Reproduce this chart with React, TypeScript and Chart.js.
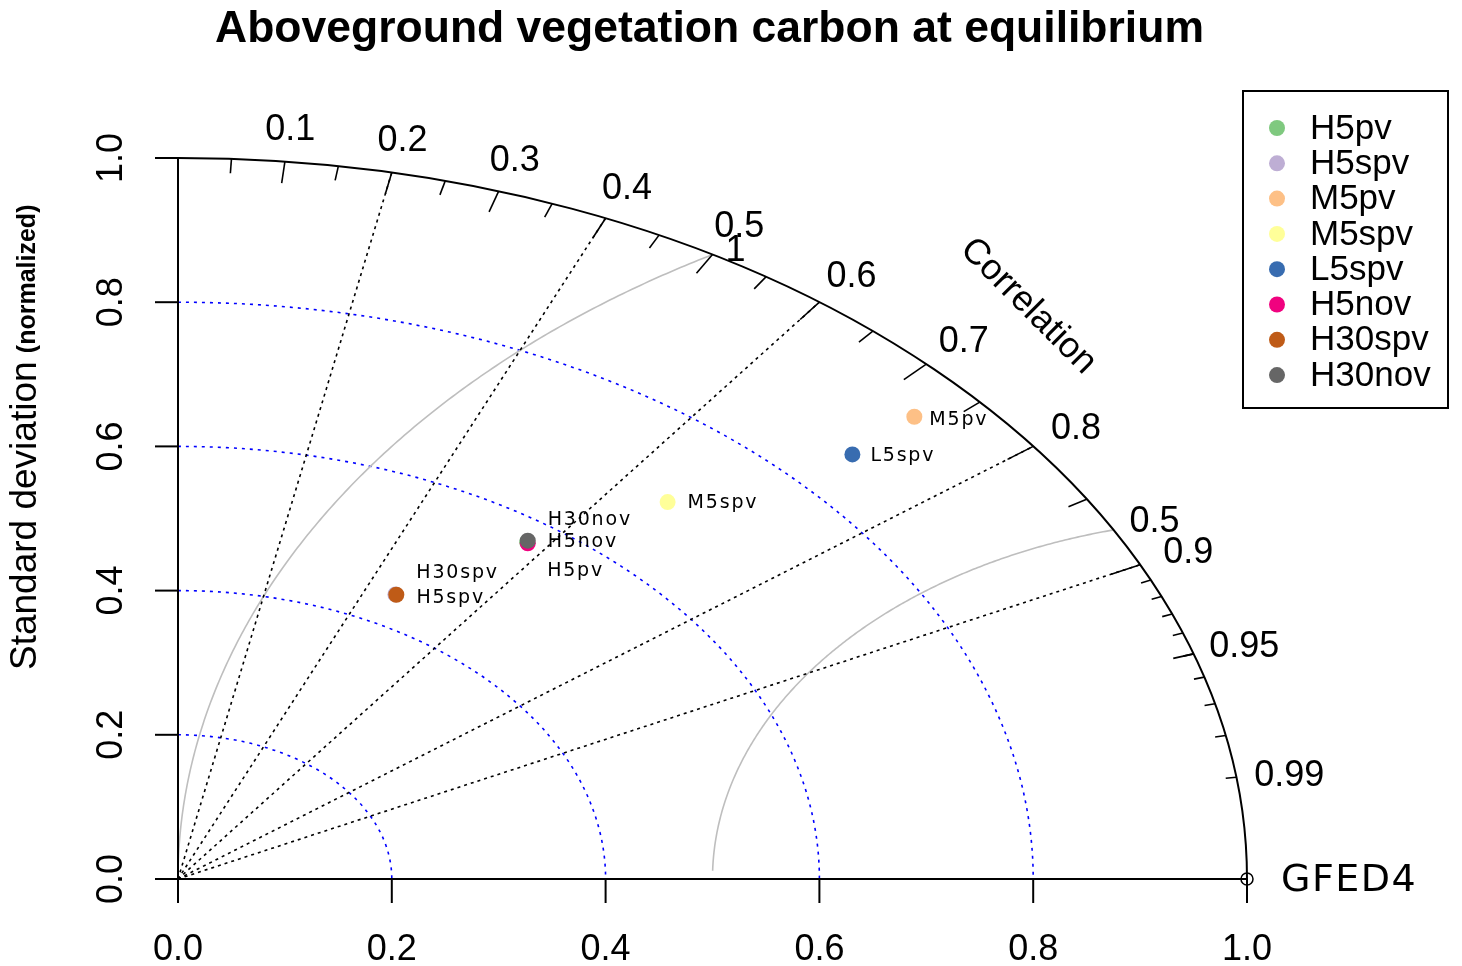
import React, { useEffect, useRef } from "react";
import { Chart, registerables } from "chart.js";

Chart.register(...registerables);

// ---------- data ----------
const TITLE = "Aboveground vegetation carbon at equilibrium";
const Y_TITLE_MAIN = "Standard deviation";
const Y_TITLE_SUB = "(normalized)";
const REF_LABEL = "GFED4";
const REF_SD = 1.0;

const models = ["H5pv", "H5spv", "M5pv", "M5spv", "L5spv", "H5nov", "H30spv", "H30nov"];
const modelColors = ["#7FC97F", "#BEAED4", "#FDC086", "#FFFF99", "#386CB0", "#F0027F", "#BF5B17", "#666666"];
// normalized standard deviation and correlation with GFED4
const sdNorm = [0.570, 0.444, 0.941, 0.695, 0.863, 0.569, 0.444, 0.572];
const corrVals = [0.573, 0.458, 0.732, 0.659, 0.731, 0.575, 0.460, 0.572];

const axisTicks = [0, 0.2, 0.4, 0.6, 0.8, 1.0];
const axisTickLabels = ["0.0", "0.2", "0.4", "0.6", "0.8", "1.0"];
const sdArcs = [0.2, 0.4, 0.6, 0.8];
const gammaArcs = [0.5, 1.0];
const gammaLabels = ["0.5", "1"];
const corrLines = [0.2, 0.4, 0.6, 0.8, 0.9];
const corrBigTicks = [0.1, 0.2, 0.3, 0.4, 0.5, 0.6, 0.7, 0.8, 0.9];
const corrMedTicks = [0.05, 0.15, 0.25, 0.35, 0.45, 0.55, 0.65, 0.75, 0.85, 0.95];
const corrSmallTicks = [0.91, 0.92, 0.93, 0.94, 0.95, 0.96, 0.97, 0.98, 0.99];
const corrLabelValues = [0.1, 0.2, 0.3, 0.4, 0.5, 0.6, 0.7, 0.8, 0.9, 0.95, 0.99];
const corrLabelTexts = ["0.1", "0.2", "0.3", "0.4", "0.5", "0.6", "0.7", "0.8", "0.9", "0.95", "0.99"];

// ---------- style (pixel offsets for point labels) ----------
const labelOffsets: [number, number][] = [
  [20, 29], [21, 4], [15, 3], [20, 1], [18, 2], [20, -1], [20, -22], [20, -21],
];

const SANS = '"Liberation Sans", Arial, sans-serif';
const DEJA = '"DejaVu Sans", sans-serif';

const taylorPlugin = {
  id: "taylor",
  beforeDatasetsDraw(chart: any) {
    const ctx: CanvasRenderingContext2D = chart.ctx;
    const xs = chart.scales.x;
    const ys = chart.scales.y;
    const X = (v: number) => xs.getPixelForValue(v);
    const Y = (v: number) => ys.getPixelForValue(v);
    const ox = X(0), oy = Y(0);
    const rx = X(1) - X(0), ry = Y(0) - Y(1);
    ctx.save();

    // blue dotted sd arcs
    ctx.strokeStyle = "#0000FF";
    ctx.lineWidth = 1.6;
    ctx.setLineDash([3, 5]);
    for (const r of sdArcs) {
      ctx.beginPath();
      ctx.ellipse(ox, oy, r * rx, r * ry, 0, -Math.PI / 2, 0, false);
      ctx.stroke();
    }

    // grey gamma (centered RMS) arcs
    ctx.setLineDash([]);
    ctx.strokeStyle = "#BEBEBE";
    ctx.lineWidth = 1.6;
    for (const g of gammaArcs) {
      const t0 = Math.acos(-g / (2 * REF_SD));
      ctx.beginPath();
      let first = true;
      for (let t = t0; t <= Math.PI - 0.02; t += 0.005) {
        const x = REF_SD + g * Math.cos(t);
        const y = g * Math.sin(t);
        if (first) { ctx.moveTo(X(x), Y(y)); first = false; } else ctx.lineTo(X(x), Y(y));
      }
      ctx.stroke();
    }

    // black dotted correlation rays
    ctx.strokeStyle = "#000";
    ctx.lineWidth = 1.6;
    ctx.setLineDash([3, 4]);
    for (const c of corrLines) {
      ctx.beginPath();
      ctx.moveTo(ox, oy);
      ctx.lineTo(X(c), Y(Math.sqrt(1 - c * c)));
      ctx.stroke();
    }
    ctx.setLineDash([]);

    // outer arc
    ctx.lineWidth = 2;
    ctx.beginPath();
    ctx.ellipse(ox, oy, rx, ry, 0, -Math.PI / 2, 0, false);
    ctx.stroke();

    // correlation ticks
    const tick = (c: number, inner: number) => {
      const s = Math.sqrt(1 - c * c);
      ctx.beginPath();
      ctx.moveTo(X(c), Y(s));
      ctx.lineTo(X(c * inner), Y(s * inner));
      ctx.stroke();
    };
    ctx.lineWidth = 1.6;
    corrBigTicks.forEach((c) => tick(c, 0.97));
    corrMedTicks.forEach((c) => tick(c, 0.98));
    corrSmallTicks.forEach((c) => tick(c, 0.99));

    // axes
    ctx.lineWidth = 2;
    ctx.beginPath();
    ctx.moveTo(X(0), Y(0));
    ctx.lineTo(X(1), Y(0));
    ctx.moveTo(X(0), Y(0));
    ctx.lineTo(X(0), Y(1));
    ctx.stroke();
    ctx.fillStyle = "#000";
    ctx.font = `36px ${SANS}`;
    axisTicks.forEach((v, i) => {
      // x ticks
      ctx.beginPath();
      ctx.moveTo(X(v), oy);
      ctx.lineTo(X(v), oy + 24);
      ctx.stroke();
      ctx.textAlign = "center";
      ctx.textBaseline = "middle";
      ctx.fillText(axisTickLabels[i], X(v), oy + 71);
      // y ticks
      ctx.beginPath();
      ctx.moveTo(ox, Y(v));
      ctx.lineTo(ox - 23, Y(v));
      ctx.stroke();
      ctx.save();
      ctx.translate(ox - 66, Y(v));
      ctx.rotate(-Math.PI / 2);
      ctx.fillText(axisTickLabels[i], 0, 0);
      ctx.restore();
    });

    // correlation labels
    ctx.font = `36px ${SANS}`;
    ctx.textAlign = "center";
    ctx.textBaseline = "middle";
    corrLabelValues.forEach((c, i) => {
      const s = Math.sqrt(1 - c * c);
      ctx.fillText(corrLabelTexts[i], X(c * 1.05), Y(s * 1.05) + 4);
    });

    // gamma labels
    ctx.textAlign = "left";
    gammaArcs.forEach((g, i) => {
      const xi = REF_SD - (g * g) / (2 * REF_SD);
      const yi = Math.sqrt(Math.max(0, 1 - xi * xi));
      ctx.fillText(gammaLabels[i], X(xi) + 16 + i * -3, Y(yi) - 8 + i * 4);
    });

    // "Correlation"
    ctx.save();
    ctx.font = `36px ${SANS}`;
    ctx.textAlign = "center";
    ctx.translate(X(0.8) - 5, Y(0.8) + 4);
    ctx.rotate(Math.PI / 4);
    ctx.fillText("Correlation", 0, 0);
    ctx.restore();

    ctx.restore();
  },
  afterDatasetsDraw(chart: any) {
    const ctx: CanvasRenderingContext2D = chart.ctx;
    const xs = chart.scales.x;
    const ys = chart.scales.y;
    const X = (v: number) => xs.getPixelForValue(v);
    const Y = (v: number) => ys.getPixelForValue(v);
    ctx.save();
    ctx.fillStyle = "#000";

    // point labels
    ctx.font = `19px ${DEJA}`;
    (ctx as any).letterSpacing = "1.8px";
    ctx.textAlign = "left";
    ctx.textBaseline = "middle";
    models.forEach((m, i) => {
      const el = chart.getDatasetMeta(i).data[0];
      ctx.fillText(m, el.x + labelOffsets[i][0], el.y + labelOffsets[i][1]);
    });

    // reference label
    ctx.font = `38px ${DEJA}`;
    (ctx as any).letterSpacing = "1.5px";
    ctx.fillText(REF_LABEL, X(REF_SD) + 34, Y(0) + 2);
    (ctx as any).letterSpacing = "0px";

    // title
    ctx.font = `bold 44.5px ${SANS}`;
    ctx.textAlign = "center";
    ctx.fillText(TITLE, (X(0) + X(1)) / 2 - 3, 30);

    // y axis title
    ctx.save();
    ctx.translate(26, 670);
    ctx.rotate(-Math.PI / 2);
    ctx.textAlign = "left";
    ctx.font = `37px ${SANS}`;
    ctx.fillText(Y_TITLE_MAIN, 0, 0);
    const w = ctx.measureText(Y_TITLE_MAIN + " ").width;
    ctx.font = `bold 25px ${SANS}`;
    ctx.fillText(Y_TITLE_SUB, w - 2, 2);
    ctx.restore();

    // legend
    const lx = 1243, ly = 91, lw = 205, lh = 317;
    ctx.lineWidth = 2;
    ctx.strokeStyle = "#000";
    ctx.strokeRect(lx, ly, lw, lh);
    ctx.font = `35px ${SANS}`;
    ctx.textAlign = "left";
    models.forEach((m, i) => {
      const yy = ly + 37 + i * 35.3;
      ctx.beginPath();
      ctx.fillStyle = modelColors[i];
      ctx.arc(lx + 34, yy, 8, 0, Math.PI * 2);
      ctx.fill();
      ctx.fillStyle = "#000";
      ctx.fillText(m, lx + 67, yy + 1);
    });

    ctx.restore();
  },
};

export default function App() {
  const ref = useRef<HTMLCanvasElement | null>(null);
  useEffect(() => {
    if (!ref.current) return;
    const datasets: any[] = models.map((m, i) => ({
      label: m,
      data: [{ x: sdNorm[i] * corrVals[i], y: sdNorm[i] * Math.sqrt(1 - corrVals[i] * corrVals[i]) }],
      backgroundColor: modelColors[i],
      borderColor: modelColors[i],
      borderWidth: 0,
      pointRadius: 8,
      pointHoverRadius: 8,
      clip: false,
      order: -i,
    }));
    datasets.push({
      label: REF_LABEL,
      data: [{ x: REF_SD, y: 0 }],
      backgroundColor: "rgba(0,0,0,0)",
      borderColor: "#000",
      borderWidth: 1.5,
      pointRadius: 6,
      clip: false,
      order: -20,
    });
    const chart = new Chart(ref.current, {
      type: "scatter",
      data: { datasets },
      options: {
        animation: false,
        responsive: false,
        layout: { padding: { left: 178, right: 215, top: 158, bottom: 87 } },
        scales: {
          x: { type: "linear", min: 0, max: 1, display: false },
          y: { type: "linear", min: 0, max: 1, display: false },
        },
        plugins: { legend: { display: false }, tooltip: { enabled: false }, title: { display: false } },
      },
      plugins: [taylorPlugin],
    });
    return () => chart.destroy();
  }, []);
  return (
    <div style={{ position: "absolute", left: 0, top: 0, width: 1462, height: 966, background: "#fff" }}>
      <canvas ref={ref} width={1462} height={966} style={{ width: 1462, height: 966 }} />
    </div>
  );
}
